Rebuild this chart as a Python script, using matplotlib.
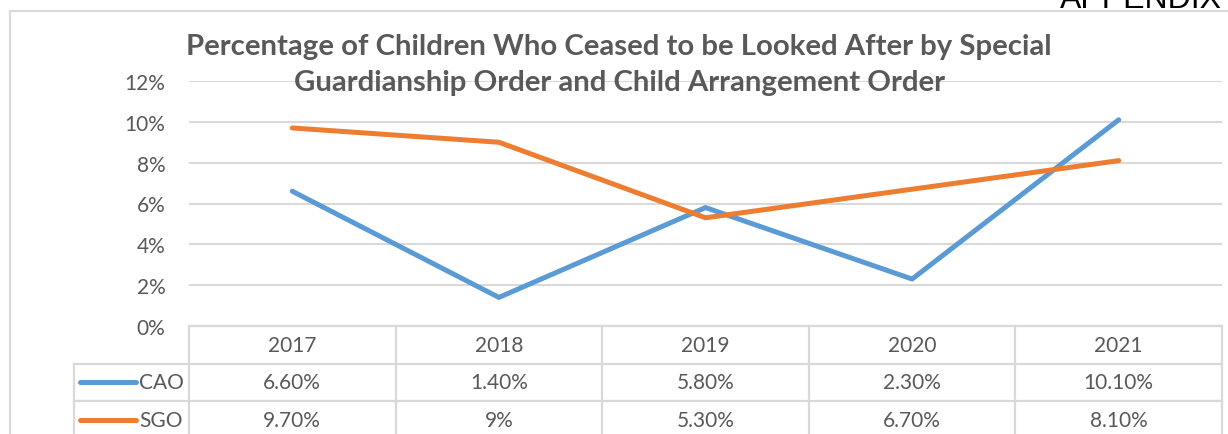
import numpy as np
import matplotlib.pyplot as plt
from matplotlib.lines import Line2D

years = ["2017", "2018", "2019", "2020", "2021"]
cao = [6.6, 1.4, 5.8, 2.3, 10.1]
sgo = [9.7, 9.0, 5.3, 6.7, 8.1]
cao_labels = ["6.60%", "1.40%", "5.80%", "2.30%", "10.10%"]
sgo_labels = ["9.70%", "9%", "5.30%", "6.70%", "8.10%"]
yticks = [0, 2, 4, 6, 8, 10, 12]

blue = "#5B9BD5"
orange = "#ED7D31"
grey_txt = "#595959"
grid_c = "#D9D9D9"

plt.rcParams["font.family"] = ["Lato", "DejaVu Sans"]

W, H = 1228, 435
fig = plt.figure(figsize=(W / 100, H / 100), dpi=100)

def fx(px):
    return px / W

def fy(py):
    return 1 - py / H

# plot area in pixels
left, right, top, bottom = 189, 1222, 82, 327
ax = fig.add_axes([fx(left), fy(bottom), fx(right - left), (bottom - top) / H])
x = np.arange(len(years))
ax.plot(x, cao, color=blue, lw=3.6, solid_capstyle="round", solid_joinstyle="round")
ax.plot(x, sgo, color=orange, lw=3.6, solid_capstyle="round", solid_joinstyle="round")
ax.set_xlim(-0.5, len(years) - 0.5)
ax.set_ylim(0, 12)
ax.set_yticks(yticks)
ax.set_yticklabels([f"{v}%" for v in yticks])
ax.set_xticks([])
ax.tick_params(axis="y", length=0, pad=17, labelsize=15, labelcolor=grey_txt)
for s in ax.spines.values():
    s.set_visible(False)
ax.grid(axis="y", color=grid_c, lw=1.5)
ax.set_axisbelow(True)

# data table below the plot
col_w = (right - left) / len(years)
tab_left = 74
row_h = 37.5
xmin = -0.5 - (left - tab_left) / col_w
tax = fig.add_axes([fx(tab_left), fy(bottom + 3 * row_h), fx(right - tab_left), 3 * row_h / H])
tax.set_xlim(xmin, len(years) - 0.5)
tax.set_ylim(3, 0)
tax.axis("off")
lk = dict(color=grid_c, lw=1.6, clip_on=False)
tax.plot([-0.5, len(years) - 0.5], [0, 0], **lk)
for r in [1, 2, 3]:
    tax.plot([xmin, len(years) - 0.5], [r, r], **lk)
for k in range(len(years) + 1):
    tax.plot([-0.5 + k, -0.5 + k], [0, 3], **lk)
tax.plot([xmin, xmin], [1, 3], **lk)

fs = 15
for i, yr in enumerate(years):
    tax.text(i, 0.5, yr, ha="center", va="center", fontsize=fs, color=grey_txt)
    tax.text(i, 1.5, cao_labels[i], ha="center", va="center", fontsize=fs, color=grey_txt)
    tax.text(i, 2.5, sgo_labels[i], ha="center", va="center", fontsize=fs, color=grey_txt)

def px2d(px):
    return -0.5 + (px - left) / col_w

for r, name, c in [(1.5, "CAO", blue), (2.5, "SGO", orange)]:
    tax.plot([px2d(80), px2d(136)], [r, r], color=c, lw=3.6, solid_capstyle="round", clip_on=False)
    tax.text(px2d(139), r, name, ha="left", va="center", fontsize=fs, color=grey_txt)

# chart border
fig.add_artist(Line2D([fx(10), 1], [fy(12), fy(12)], color=grid_c, lw=1.5))
fig.add_artist(Line2D([fx(10), fx(10)], [fy(12), 0], color=grid_c, lw=1.5))

# titles
fig.text(fx(619), fy(55), "Percentage of Children Who Ceased to be Looked After by Special",
         ha="center", va="baseline", fontsize=21.2, fontweight="bold", color=grey_txt)
fig.text(fx(619), fy(91), "Guardianship Order and Child Arrangement Order",
         ha="center", va="baseline", fontsize=21.2, fontweight="bold", color=grey_txt)

fig.text(fx(1060), fy(8), "APPENDIX", ha="left", va="baseline", fontsize=23,
         color="black", family=["Liberation Sans", "DejaVu Sans"])

fig.savefig("out.png", dpi=100)
